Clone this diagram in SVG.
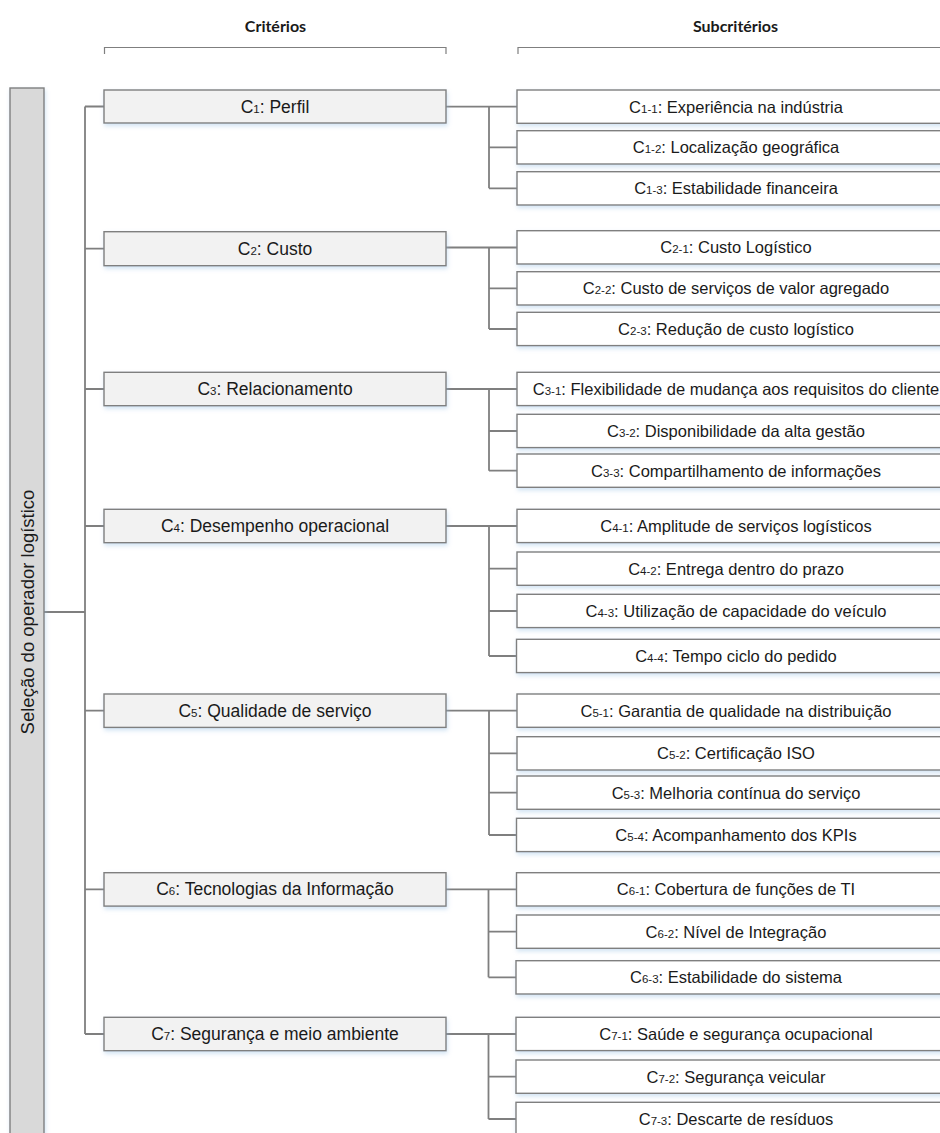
<svg xmlns="http://www.w3.org/2000/svg" width="940" height="1133" viewBox="0 0 940 1133">
<style>
.bx{stroke:#7f7f7f;stroke-width:1.4;filter:url(#sh)}
.crit{fill:#f2f2f2}
.sub{fill:#ffffff}
.root{fill:#d9d9d9}
.ct{font-family:"Liberation Sans",Arial,sans-serif;font-size:17.5px;fill:#1a1a1a;text-anchor:middle}
.st{font-family:"Liberation Sans",Arial,sans-serif;font-size:16.5px;fill:#1a1a1a;text-anchor:middle}
.rt{font-family:"Liberation Sans",Arial,sans-serif;font-size:18.5px;fill:#1a1a1a;text-anchor:middle}
.sm{font-size:11.5px}
.hd{font-family:Lato,"Open Sans",sans-serif;font-weight:bold;font-size:16px;fill:#1a1a1a;text-anchor:middle}
.ln{stroke:#7f7f7f;stroke-width:1.8;fill:none}
.br{stroke:#7f7f7f;stroke-width:1.2;fill:none}
</style>
<defs>
<filter id="sh" x="-10%" y="-30%" width="130%" height="180%">
<feDropShadow dx="1" dy="2.5" stdDeviation="2" flood-color="#9dc3e6" flood-opacity="0.45"/>
</filter>
</defs>
<rect width="940" height="1133" fill="#ffffff"/>
<g id="headers">
<text class="hd" x="275.5" y="31.5">Critérios</text>
<path class="br" d="M104.5,54 V47.5 H446 V54"/>
<text class="hd" x="735.5" y="31.5">Subcritérios</text>
<path class="br" d="M518,54 V47.5 H960"/>
</g>
<g id="connectors">
<path class="ln" d="M44,612 H85 M85,106.5 V1034"/>
<path class="ln" d="M85,106.5 H104 M85,248.7 H104 M85,389 H104 M85,526 H104 M85,710.7 H104 M85,889.3 H104 M85,1034 H104"/>
<path class="ln" d="M446,106.7 H517 M489,106.7 V188.3 M489,147.3 H517 M489,188.3 H517"/>
<path class="ln" d="M446,247.5 H517 M489,247.5 V329 M489,288.3 H517 M489,329 H517"/>
<path class="ln" d="M446,389 H517 M489,389 V470.7 M489,431 H517 M489,470.7 H517"/>
<path class="ln" d="M446,526 H517 M489,526 V656 M489,568.7 H517 M489,611 H517 M489,656 H517"/>
<path class="ln" d="M446,710.7 H517 M489,710.7 V835 M489,753.3 H517 M489,792.7 H517 M489,835 H517"/>
<path class="ln" d="M446,889.3 H517 M488.5,889.3 V977.3 M488.5,931.7 H517 M488.5,977.3 H517"/>
<path class="ln" d="M446,1034 H517 M488.5,1034 V1119 M488.5,1076.7 H517 M488.5,1119 H517"/>
</g>
<g id="root">
<rect class="bx root" x="10" y="88" width="34" height="1060"/>
<text class="rt" transform="translate(33.5,612) rotate(-90)" x="0" y="0">Seleção do operador logístico</text>
</g>
<g id="C1">
<rect class="bx crit" x="104" y="90" width="342" height="33"/>
<text class="ct" x="275" y="112.7">C<tspan class="sm">1</tspan>: Perfil</text>
</g>
<g id="C2">
<rect class="bx crit" x="104" y="231.7" width="342" height="34"/>
<text class="ct" x="275" y="254.7">C<tspan class="sm">2</tspan>: Custo</text>
</g>
<g id="C3">
<rect class="bx crit" x="104" y="372.3" width="342" height="33.4"/>
<text class="ct" x="275" y="395">C<tspan class="sm">3</tspan>: Relacionamento</text>
</g>
<g id="C4">
<rect class="bx crit" x="104" y="509.3" width="342" height="33.4"/>
<text class="ct" x="275" y="532">C<tspan class="sm">4</tspan>: Desempenho operacional</text>
</g>
<g id="C5">
<rect class="bx crit" x="104" y="694" width="342" height="33.4"/>
<text class="ct" x="275" y="716.7">C<tspan class="sm">5</tspan>: Qualidade de serviço</text>
</g>
<g id="C6">
<rect class="bx crit" x="104" y="872.7" width="342" height="33.4"/>
<text class="ct" x="275" y="895.3">C<tspan class="sm">6</tspan>: Tecnologias da Informação</text>
</g>
<g id="C7">
<rect class="bx crit" x="104" y="1017.3" width="342" height="33.4"/>
<text class="ct" x="275" y="1040">C<tspan class="sm">7</tspan>: Segurança e meio ambiente</text>
</g>
<g id="C1-1"><rect class="bx sub" x="517" y="90" width="440" height="33.3"/><text class="st" x="736" y="112.5">C<tspan class="sm">1-1</tspan>: Experiência na indústria</text></g>
<g id="C1-2"><rect class="bx sub" x="517" y="130.7" width="440" height="33.3"/><text class="st" x="736" y="153.2">C<tspan class="sm">1-2</tspan>: Localização geográfica</text></g>
<g id="C1-3"><rect class="bx sub" x="517" y="171.7" width="440" height="33.3"/><text class="st" x="736" y="194.2">C<tspan class="sm">1-3</tspan>: Estabilidade financeira</text></g>
<g id="C2-1"><rect class="bx sub" x="517" y="230.7" width="440" height="33.3"/><text class="st" x="736" y="253.2">C<tspan class="sm">2-1</tspan>: Custo Logístico</text></g>
<g id="C2-2"><rect class="bx sub" x="517" y="271.7" width="440" height="33.3"/><text class="st" x="736" y="294.2">C<tspan class="sm">2-2</tspan>: Custo de serviços de valor agregado</text></g>
<g id="C2-3"><rect class="bx sub" x="517" y="312.3" width="440" height="33.3"/><text class="st" x="736" y="334.8">C<tspan class="sm">2-3</tspan>: Redução de custo logístico</text></g>
<g id="C3-1"><rect class="bx sub" x="517" y="372.3" width="440" height="33.3"/><text class="st" x="736" y="394.8">C<tspan class="sm">3-1</tspan>: Flexibilidade de mudança aos requisitos do cliente</text></g>
<g id="C3-2"><rect class="bx sub" x="517" y="414.3" width="440" height="33.3"/><text class="st" x="736" y="436.8">C<tspan class="sm">3-2</tspan>: Disponibilidade da alta gestão</text></g>
<g id="C3-3"><rect class="bx sub" x="517" y="454" width="440" height="33.3"/><text class="st" x="736" y="476.5">C<tspan class="sm">3-3</tspan>: Compartilhamento de informações</text></g>
<g id="C4-1"><rect class="bx sub" x="517" y="509.3" width="440" height="33.3"/><text class="st" x="736" y="531.8">C<tspan class="sm">4-1</tspan>: Amplitude de serviços logísticos</text></g>
<g id="C4-2"><rect class="bx sub" x="517" y="552" width="440" height="33.3"/><text class="st" x="736" y="574.5">C<tspan class="sm">4-2</tspan>: Entrega dentro do prazo</text></g>
<g id="C4-3"><rect class="bx sub" x="517" y="594.3" width="440" height="33.3"/><text class="st" x="736" y="616.8">C<tspan class="sm">4-3</tspan>: Utilização de capacidade do veículo</text></g>
<g id="C4-4"><rect class="bx sub" x="516.5" y="639.3" width="440" height="33.3"/><text class="st" x="736" y="661.8">C<tspan class="sm">4-4</tspan>: Tempo ciclo do pedido</text></g>
<g id="C5-1"><rect class="bx sub" x="517" y="694" width="440" height="33.3"/><text class="st" x="736" y="716.5">C<tspan class="sm">5-1</tspan>: Garantia de qualidade na distribuição</text></g>
<g id="C5-2"><rect class="bx sub" x="517" y="736.7" width="440" height="33.3"/><text class="st" x="736" y="759.2">C<tspan class="sm">5-2</tspan>: Certificação ISO</text></g>
<g id="C5-3"><rect class="bx sub" x="517" y="776" width="440" height="33.3"/><text class="st" x="736" y="798.5">C<tspan class="sm">5-3</tspan>: Melhoria contínua do serviço</text></g>
<g id="C5-4"><rect class="bx sub" x="516.5" y="818.3" width="440" height="33.3"/><text class="st" x="736" y="840.8">C<tspan class="sm">5-4</tspan>: Acompanhamento dos KPIs</text></g>
<g id="C6-1"><rect class="bx sub" x="516.5" y="872.7" width="440" height="33.3"/><text class="st" x="736" y="895.2">C<tspan class="sm">6-1</tspan>: Cobertura de funções de TI</text></g>
<g id="C6-2"><rect class="bx sub" x="516.5" y="915" width="440" height="33.3"/><text class="st" x="736" y="937.5">C<tspan class="sm">6-2</tspan>: Nível de Integração</text></g>
<g id="C6-3"><rect class="bx sub" x="516" y="960.7" width="440" height="33.3"/><text class="st" x="736" y="983.2">C<tspan class="sm">6-3</tspan>: Estabilidade do sistema</text></g>
<g id="C7-1"><rect class="bx sub" x="516" y="1017.3" width="440" height="33.3"/><text class="st" x="736" y="1039.8">C<tspan class="sm">7-1</tspan>: Saúde e segurança ocupacional</text></g>
<g id="C7-2"><rect class="bx sub" x="516" y="1060" width="440" height="33.3"/><text class="st" x="736" y="1082.5">C<tspan class="sm">7-2</tspan>: Segurança veicular</text></g>
<g id="C7-3"><rect class="bx sub" x="516" y="1102.3" width="440" height="33.3"/><text class="st" x="736" y="1124.8">C<tspan class="sm">7-3</tspan>: Descarte de resíduos</text></g>
</svg>
